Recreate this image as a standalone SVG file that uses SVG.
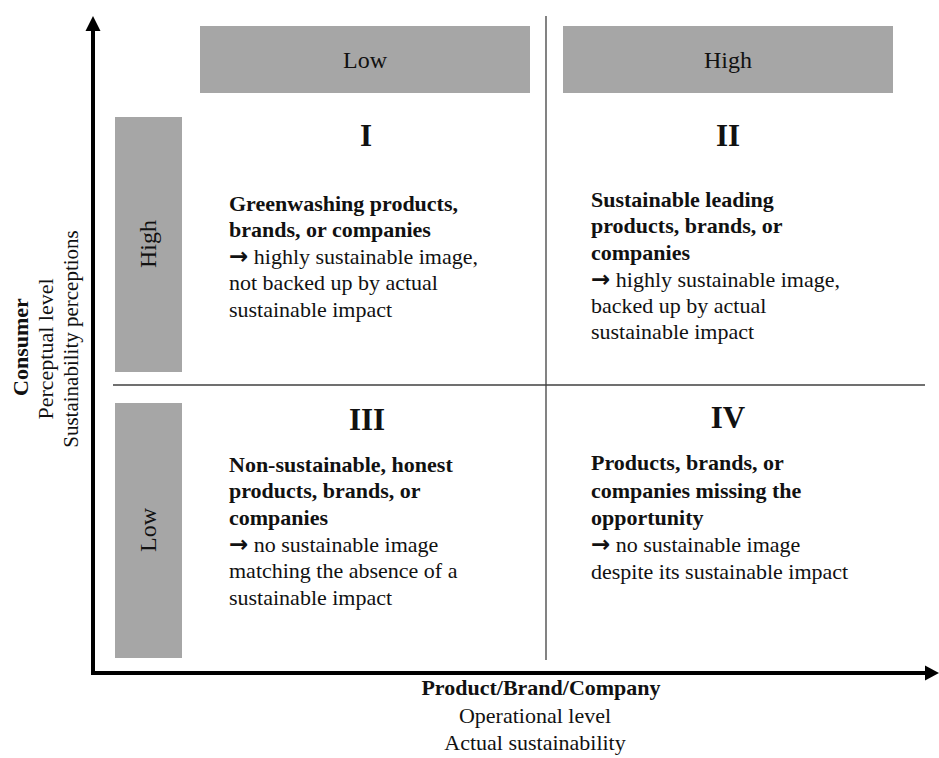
<svg xmlns="http://www.w3.org/2000/svg" width="939" height="758" viewBox="0 0 939 758">
<style>
.box{fill:#a6a6a6}
.div{stroke:#404040;stroke-width:1.3;fill:none}
.axis{stroke:#000;stroke-width:4;fill:none}
.head{fill:#000}
text{font-family:"Liberation Serif","Times New Roman",serif;fill:#111}
.hdr{font-size:24px;text-anchor:middle}
.num{font-size:31px;font-weight:bold;text-anchor:middle}
.b{font-size:22px;font-weight:bold}
.r{font-size:22px}
.ar{font-family:"DejaVu Sans",sans-serif;font-size:23px;font-weight:bold}
.lab{font-size:22px;text-anchor:middle}
</style>
<rect width="939" height="758" fill="#fff"/>
<g id="connectors">
<line class="div" x1="546" y1="16" x2="546" y2="660"/>
<line class="div" x1="113" y1="385" x2="925" y2="385"/>
<line class="axis" x1="93" y1="675" x2="93" y2="28"/>
<polygon class="head" points="93,16 85.5,31 100.5,31"/>
<line class="axis" x1="91" y1="673" x2="927" y2="673"/>
<polygon class="head" points="939,673 925,665.5 925,680.5"/>
</g>
<g id="col-low">
<rect class="box" x="200" y="26" width="330" height="67"/>
<text class="hdr" x="365" y="68">Low</text>
</g>
<g id="col-high">
<rect class="box" x="563" y="26" width="330" height="67"/>
<text class="hdr" x="728" y="68">High</text>
</g>
<g id="row-high">
<rect class="box" x="115" y="117" width="67" height="255"/>
<text class="hdr" transform="translate(156,244) rotate(-90)">High</text>
</g>
<g id="row-low">
<rect class="box" x="115" y="403" width="67" height="255"/>
<text class="hdr" transform="translate(156,530) rotate(-90)">Low</text>
</g>
<g id="quadrant-I">
<text class="num" x="366" y="146">I</text>
<text class="b" x="229" y="211">Greenwashing products,</text>
<text class="b" x="229" y="237">brands, or companies</text>
<text class="r" x="229" y="264"><tspan class="ar">→</tspan> highly sustainable image,</text>
<text class="r" x="229" y="290">not backed up by actual</text>
<text class="r" x="229" y="317">sustainable impact</text>
</g>
<g id="quadrant-II">
<text class="num" x="728" y="146">II</text>
<text class="b" x="591" y="207">Sustainable leading</text>
<text class="b" x="591" y="233">products, brands, or</text>
<text class="b" x="591" y="260">companies</text>
<text class="r" x="591" y="287"><tspan class="ar">→</tspan> highly sustainable image,</text>
<text class="r" x="591" y="313">backed up by actual</text>
<text class="r" x="591" y="339">sustainable impact</text>
</g>
<g id="quadrant-III">
<text class="num" x="367" y="430">III</text>
<text class="b" x="229" y="472">Non-sustainable, honest</text>
<text class="b" x="229" y="498">products, brands, or</text>
<text class="b" x="229" y="525">companies</text>
<text class="r" x="229" y="552"><tspan class="ar">→</tspan> no sustainable image</text>
<text class="r" x="229" y="578">matching the absence of a</text>
<text class="r" x="229" y="605">sustainable impact</text>
</g>
<g id="quadrant-IV">
<text class="num" x="728" y="428">IV</text>
<text class="b" x="591" y="470">Products, brands, or</text>
<text class="b" x="591" y="498">companies missing the</text>
<text class="b" x="591" y="525">opportunity</text>
<text class="r" x="591" y="552"><tspan class="ar">→</tspan> no sustainable image</text>
<text class="r" x="591" y="579">despite its sustainable impact</text>
</g>
<g id="y-axis-label">
<text class="lab" font-weight="bold" transform="translate(28,347) rotate(-90)">Consumer</text>
<text class="lab" transform="translate(53,349) rotate(-90)">Perceptual level</text>
<text class="lab" style="font-size:21px" transform="translate(78,339) rotate(-90)">Sustainability perceptions</text>
</g>
<g id="x-axis-label">
<text class="lab" font-weight="bold" x="541" y="695">Product/Brand/Company</text>
<text class="lab" x="535" y="723">Operational level</text>
<text class="lab" x="535" y="750">Actual sustainability</text>
</g>
</svg>
